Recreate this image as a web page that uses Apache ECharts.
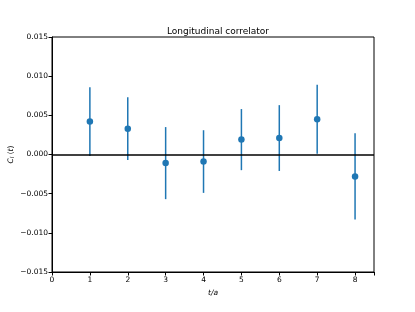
<!DOCTYPE html>
<html><head><meta charset="utf-8">
<script src="https://cdn.jsdelivr.net/npm/echarts@6/dist/echarts.min.js"></script>
<style>html,body{margin:0;padding:0;background:#fff}#c{width:415px;height:312px}</style>
</head><body><div id="c"></div>
<script>
var tValues = [1, 2, 3, 4, 5, 6, 7, 8];
var corrValues = [0.0042, 0.0033, -0.0011, -0.0009, 0.0019, 0.0021, 0.0045, -0.0028];
var errValues = [0.0044, 0.0040, 0.0046, 0.0040, 0.0039, 0.0042, 0.0044, 0.0055];
var yTicks = [-0.015, -0.010, -0.005, 0.000, 0.005, 0.010, 0.015];
var xTicks = [0, 1, 2, 3, 4, 5, 6, 7, 8];

var font = 'DejaVu Sans';
var blue = '#1f77b4';
var pts = tValues.map(function (t, i) { return [t, corrValues[i], errValues[i]]; });

function fmtY(v) {
  var s = Math.abs(v).toFixed(3);
  return (v < -1e-9 ? '\u2212' : '') + s;
}

var chart = echarts.init(document.getElementById('c'), null, {renderer: 'canvas'});
chart.setOption({
  animation: false,
  backgroundColor: '#fff',
  title: {
    text: 'Longitudinal correlator', left: 213, top: 22, textAlign: 'center',
    textStyle: {fontFamily: font, fontSize: 9, fontWeight: 'normal', color: '#000'}
  },
  grid: {left: 52, top: 37, right: 41, bottom: 40, containLabel: false, outerBoundsMode: 'none',
    show: true, borderColor: '#000', borderWidth: 1, backgroundColor: 'transparent'},
  xAxis: {
    type: 'value', min: 0, max: 8.5, interval: 1,
    name: 't/a', nameLocation: 'middle', nameGap: 17, nameMoveOverlap: false,
    nameTextStyle: {fontFamily: font, fontSize: 7.5, fontStyle: 'italic', color: '#000'},
    axisLine: {show: true, onZero: false, lineStyle: {color: '#000', width: 1}},
    axisTick: {show: true, inside: false, length: 3.5, lineStyle: {color: '#000'}},
    axisLabel: {fontFamily: font, fontSize: 7.5, color: '#000', margin: 4,
      formatter: function (v) { return v > 8 ? '' : String(v); }},
    splitLine: {show: false}
  },
  yAxis: {
    type: 'value', min: -0.015, max: 0.015, interval: 0.005,
    name: '{i|C}{s|l}{n| (}{i|t}{n|)}', nameLocation: 'middle', nameGap: 36, nameRotate: 90,
    nameMoveOverlap: false,
    nameTextStyle: {fontFamily: font, fontSize: 7.5, color: '#000',
      rich: {
        i: {fontFamily: font, fontSize: 7.5, fontStyle: 'italic', color: '#000'},
        s: {fontFamily: font, fontSize: 5.5, fontStyle: 'italic', color: '#000', verticalAlign: 'bottom', padding: [4, 0, 0, 0]},
        n: {fontFamily: font, fontSize: 7.5, color: '#000'}
      }},
    axisLine: {show: true, onZero: false, lineStyle: {color: '#000', width: 1}},
    axisTick: {show: true, inside: false, length: 3.5, lineStyle: {color: '#000'}},
    axisLabel: {fontFamily: font, fontSize: 7.5, color: '#000', margin: 4, formatter: fmtY},
    splitLine: {show: false}
  },
  series: [
    {
      type: 'custom',
      data: pts,
      z: 2,
      renderItem: function (params, api) {
        var x = api.value(0), y = api.value(1), e = api.value(2);
        var p1 = api.coord([x, y - e]);
        var p2 = api.coord([x, y + e]);
        return {type: 'line', shape: {x1: p1[0], y1: p1[1], x2: p2[0], y2: p2[1]},
          style: {stroke: blue, lineWidth: 1.5}};
      }
    },
    {
      type: 'scatter',
      data: pts.map(function (p) { return [p[0], p[1]]; }),
      symbol: 'circle', symbolSize: 6.5, z: 4,
      itemStyle: {color: blue, opacity: 1},
      markLine: {
        silent: true, symbol: 'none', label: {show: false}, z: 3,
        lineStyle: {color: '#000', width: 1.5, type: 'solid'},
        data: [{yAxis: 0}]
      }
    }
  ]
});
</script>
</body></html>
